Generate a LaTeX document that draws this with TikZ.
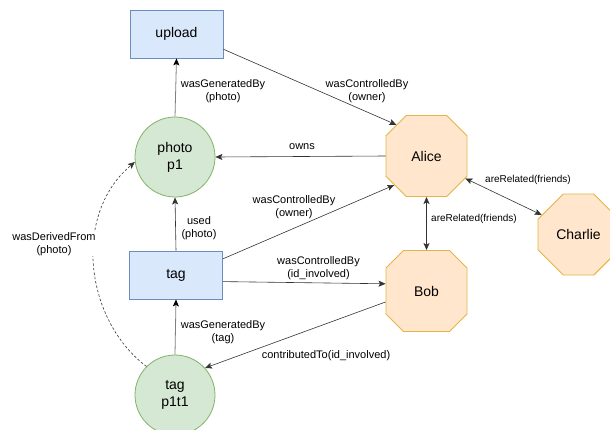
\documentclass[tikz,border=0pt]{standalone}
\usepackage{fontspec}
\setmainfont{Liberation Sans}
\usetikzlibrary{shapes.geometric,shapes.misc,arrows.meta}
\definecolor{boxfill}{HTML}{DAE8FC}
\definecolor{boxline}{HTML}{6C8EBF}
\definecolor{circfill}{HTML}{D5E8D4}
\definecolor{circline}{HTML}{82B366}
\definecolor{octfill}{HTML}{FFE6CC}
\definecolor{octline}{HTML}{E3B448}
\definecolor{edgedark}{HTML}{333333}
\definecolor{edgegray}{HTML}{808080}
\tikzset{
  activity/.style={rectangle,draw=boxline,fill=boxfill,line width=0.8pt,minimum width=93pt,minimum height=48pt,inner sep=0pt,font=\fontsize{14}{17}\selectfont},
  entity/.style={circle,draw=circline,fill=circfill,line width=0.8pt,minimum size=80pt,inner sep=0pt,align=center,font=\fontsize{14}{17}\selectfont},
  agent/.style={chamfered rectangle,chamfered rectangle xsep=20pt,chamfered rectangle ysep=20pt,draw=octline,fill=octfill,line width=0.9pt,minimum width=81pt,minimum height=81pt,inner sep=0pt,font=\fontsize{14}{17}\selectfont},
  lbl/.style={inner sep=1pt,align=center,font=\fontsize{11}{13}\selectfont},
  lbls/.style={inner sep=1pt,align=center,font=\fontsize{10}{12}\selectfont},
  conn/.style={draw=edgedark,line width=0.6pt,-{Stealth[length=7pt,width=6pt,inset=1.5pt]}},
  connb/.style={draw=edgedark,line width=0.6pt,{Stealth[length=7pt,width=6pt,inset=1.5pt]}-{Stealth[length=7pt,width=6pt,inset=1.5pt]}},
  conng/.style={draw=edgegray,line width=0.8pt,-{Stealth[length=7pt,width=6pt,inset=1.5pt,black]}},
}
\begin{document}
\begin{tikzpicture}[x=1pt,y=-1pt]
\useasboundingbox (0,0) rectangle (610,429);
\clip (0,0) rectangle (610,429);
\node[activity] (upload) at (176.5,34) {upload};
\node[entity] (photo) at (175,157) {photo\\p1};
\node[activity] (tag) at (176,275) {tag};
\node[entity] (p1t1) at (175,395) {tag\\p1t1};
\node[agent] (Alice) at (426.5,156) {Alice};
\node[agent] (Bob) at (426.5,291) {Bob};
\node[agent] (Charlie) at (578.5,234.5) {Charlie};

\draw[conng] (photo.north) -- (upload.south);
\draw[conn] (upload.-18) -- (Alice.134);
\draw[conn] (Alice.west) -- (photo.east);
\draw[conn] (tag.north) -- (photo.south);
\draw[conn] (tag.19) -- (Alice.222);
\draw[conn] (tag.-8) -- (Bob.170);
\draw[conn] (Bob.195) -- (p1t1.42);
\draw[conng] (p1t1.north) -- (tag.south);
\draw[connb] (Alice.south) -- (Bob.north);
\draw[connb] (Alice.-30) -- (Charlie.152);
\draw[conn,dash pattern=on 2.5pt off 2pt] (p1t1.135) .. controls (85,320) and (72,215) .. (photo.187);

\node[lbl] (l1) at (223,91) {wasGeneratedBy\\(photo)};
\node[lbl] (l2) at (367,91) {wasControlledBy\\(owner)};
\node[lbl] (l3) at (302,147) {owns};
\node[lbl] (l4) at (199,228) {used\\(photo)};
\node[lbl] (l5) at (294,207) {wasControlledBy\\(owner)};
\node[lbl] (l6) at (318.5,268) {wasControlledBy\\(id\_involved)};
\node[lbl] (l7) at (223,332) {wasGeneratedBy\\(tag)};
\node[lbl] (l8) at (326,356) {contributedTo(id\_involved)};
\node[lbls] (l9) at (474,219) {areRelated(friends)};
\node[lbls] (l10) at (528,180) {areRelated(friends)};
\node[lbl,fill=white,inner sep=0.5pt] (l11) at (54,244) {wasDerivedFrom\\(photo)};
\end{tikzpicture}
\end{document}
